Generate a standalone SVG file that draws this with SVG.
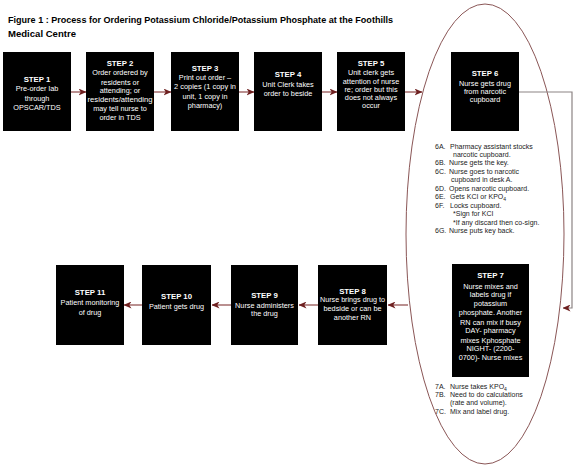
<svg xmlns="http://www.w3.org/2000/svg" width="576" height="468" viewBox="0 0 576 468">
<defs>
<marker id="ah" viewBox="0 0 8 7" refX="7.5" refY="3.5" markerWidth="8" markerHeight="7" markerUnits="userSpaceOnUse" orient="auto">
<path d="M0,0 L8,3.5 L0,7 L2.2,3.5 z" fill="#6e2020"/>
</marker>
<style>
.box{fill:#000}
.t{fill:#fff;font-family:"Liberation Sans",Arial,sans-serif;font-size:7.3px;text-anchor:middle}
.h{font-weight:bold;font-size:7.8px}
.l{fill:#222;font-family:"Liberation Sans",Arial,sans-serif;font-size:7px}
.title{fill:#000;font-family:"Liberation Sans",Arial,sans-serif;font-size:9.5px;font-weight:bold}
.arr{stroke:#8c4646;stroke-width:1.2;fill:none}
.con{stroke:#8c8484;stroke-width:1.2;fill:none}
.ell{stroke:#8a5656;stroke-width:1;fill:none}
</style>
</defs>
<rect width="576" height="468" fill="#fff"/>
<g id="title">
<text class="title" x="8" y="23" textLength="385" lengthAdjust="spacingAndGlyphs">Figure 1 : Process for Ordering Potassium Chloride/Potassium Phosphate at the Foothills</text>
<text class="title" x="8" y="37" textLength="68" lengthAdjust="spacingAndGlyphs">Medical Centre</text>
</g>
<g id="ellipse"><ellipse class="ell" cx="485" cy="234" rx="79" ry="230"/></g>
<g id="connectors">
<line class="arr" x1="71" y1="92" x2="86" y2="92" marker-end="url(#ah)"/>
<line class="arr" x1="154" y1="92" x2="171" y2="92" marker-end="url(#ah)"/>
<line class="arr" x1="239" y1="92" x2="254" y2="92" marker-end="url(#ah)"/>
<line class="arr" x1="322" y1="92" x2="337" y2="92" marker-end="url(#ah)"/>
<line class="arr" x1="405" y1="92" x2="422" y2="92" marker-end="url(#ah)"/>
<polyline class="con" points="519,92 572,92 572,308 563,308" marker-end="url(#ah)"/>
<line class="arr" x1="408" y1="305" x2="388" y2="305" marker-end="url(#ah)"/>
<line class="arr" x1="318" y1="305" x2="299" y2="305" marker-end="url(#ah)"/>
<line class="arr" x1="231" y1="305" x2="212" y2="305" marker-end="url(#ah)"/>
<line class="arr" x1="142" y1="305" x2="124" y2="305" marker-end="url(#ah)"/>
</g>
<g id="step1">
<rect class="box" x="3" y="52" width="68" height="79"/>
<text class="t h" x="37" y="82">STEP 1</text>
<text class="t" x="37" y="91">Pre-order lab</text>
<text class="t" x="37" y="100.5">through</text>
<text class="t" x="37" y="110">OPSCAR/TDS</text>
</g>
<g id="step2">
<rect class="box" x="86" y="52" width="68" height="79"/>
<text class="t h" x="120" y="65.5">STEP 2</text>
<text class="t" x="120" y="75">Order ordered by</text>
<text class="t" x="120" y="84.5">residents or</text>
<text class="t" x="120" y="93">attending; or</text>
<text class="t" x="120" y="102" textLength="65" lengthAdjust="spacingAndGlyphs">residents/attending</text>
<text class="t" x="120" y="111">may tell nurse to</text>
<text class="t" x="120" y="120">order in TDS</text>
</g>
<g id="step3">
<rect class="box" x="171" y="52" width="68" height="79"/>
<text class="t h" x="205" y="70.5">STEP 3</text>
<text class="t" x="205" y="79.5">Print out order –</text>
<text class="t" x="205" y="89" textLength="62" lengthAdjust="spacingAndGlyphs">2 copies (1 copy in</text>
<text class="t" x="205" y="98.5">unit, 1 copy in</text>
<text class="t" x="205" y="108">pharmacy)</text>
</g>
<g id="step4">
<rect class="box" x="254" y="52" width="68" height="79"/>
<text class="t h" x="288" y="77">STEP 4</text>
<text class="t" x="288" y="86.5">Unit Clerk takes</text>
<text class="t" x="288" y="95.5">order to beside</text>
</g>
<g id="step5">
<rect class="box" x="337" y="52" width="68" height="79"/>
<text class="t h" x="371" y="66">STEP 5</text>
<text class="t" x="371" y="74.5">Unit clerk gets</text>
<text class="t" x="371" y="83.5">attention of nurse</text>
<text class="t" x="371" y="91.5">re; order but this</text>
<text class="t" x="371" y="99.5">does not always</text>
<text class="t" x="371" y="108">occur</text>
</g>
<g id="step6">
<rect class="box" x="451" y="52" width="68" height="79"/>
<text class="t h" x="485" y="76">STEP 6</text>
<text class="t" x="485" y="85.5">Nurse gets drug</text>
<text class="t" x="485" y="93.5">from narcotic</text>
<text class="t" x="485" y="102">cupboard</text>
</g>
<g id="list6">
<text class="l" x="435" y="148.5">6A.</text><text class="l" x="450" y="148.5">Pharmacy assistant stocks</text>
<text class="l" x="453" y="156.5">narcotic cupboard.</text>
<text class="l" x="435" y="165">6B.</text><text class="l" x="449" y="165">Nurse gets the key.</text>
<text class="l" x="435" y="173.5">6C.</text><text class="l" x="449" y="173.5">Nurse goes to narcotic</text>
<text class="l" x="451" y="181.5">cupboard in desk A.</text>
<text class="l" x="435" y="190.5">6D.</text><text class="l" x="449" y="190.5">Opens narcotic cupboard.</text>
<text class="l" x="435" y="199">6E.</text><text class="l" x="450" y="199">Gets KCI or KPO<tspan dy="2" font-size="5">4</tspan></text>
<text class="l" x="435" y="207.5">6F.</text><text class="l" x="450" y="207.5">Locks cupboard.</text>
<text class="l" x="453" y="216">*Sign for KCI</text>
<text class="l" x="453" y="224.5">*If any discard then co-sign.</text>
<text class="l" x="435" y="232.5">6G.</text><text class="l" x="449" y="232.5">Nurse puts key back.</text>
</g>
<g id="step7">
<rect class="box" x="452" y="264" width="77" height="113"/>
<text class="t h" x="490.5" y="278">STEP 7</text>
<text class="t" x="490.5" y="288.5">Nurse mixes and</text>
<text class="t" x="490.5" y="297">labels drug if</text>
<text class="t" x="490.5" y="306">potassium</text>
<text class="t" x="490.5" y="315">phosphate. Another</text>
<text class="t" x="490.5" y="324.5">RN can mix if busy</text>
<text class="t" x="490.5" y="333">DAY- pharmacy</text>
<text class="t" x="490.5" y="342.5">mixes Kphosphate</text>
<text class="t" x="490.5" y="351">NIGHT- (2200-</text>
<text class="t" x="490.5" y="360">0700)- Nurse mixes</text>
</g>
<g id="list7">
<text class="l" x="435" y="388.5">7A.</text><text class="l" x="450" y="388.5">Nurse takes KPO<tspan dy="2" font-size="5">4</tspan></text>
<text class="l" x="435" y="397">7B.</text><text class="l" x="450" y="397">Need to do calculations</text>
<text class="l" x="450" y="405">(rate and volume).</text>
<text class="l" x="435" y="413.5">7C.</text><text class="l" x="450" y="413.5">Mix and label drug.</text>
</g>
<g id="step8">
<rect class="box" x="318" y="265" width="69" height="80"/>
<text class="t h" x="352.5" y="293.5">STEP 8</text>
<text class="t" x="352.5" y="302" textLength="65" lengthAdjust="spacingAndGlyphs">Nurse brings drug to</text>
<text class="t" x="352.5" y="310.5">bedside or can be</text>
<text class="t" x="352.5" y="319.5">another RN</text>
</g>
<g id="step9">
<rect class="box" x="231" y="265" width="67" height="80"/>
<text class="t h" x="264.5" y="298">STEP 9</text>
<text class="t" x="264.5" y="307.5">Nurse administers</text>
<text class="t" x="264.5" y="316">the drug</text>
</g>
<g id="step10">
<rect class="box" x="142" y="265" width="69" height="80"/>
<text class="t h" x="176.5" y="299">STEP 10</text>
<text class="t" x="176.5" y="308.5">Patient gets drug</text>
</g>
<g id="step11">
<rect class="box" x="56" y="265" width="68" height="80"/>
<text class="t h" x="90" y="295">STEP 11</text>
<text class="t" x="90" y="305">Patient monitoring</text>
<text class="t" x="90" y="314.5">of drug</text>
</g>
</svg>
